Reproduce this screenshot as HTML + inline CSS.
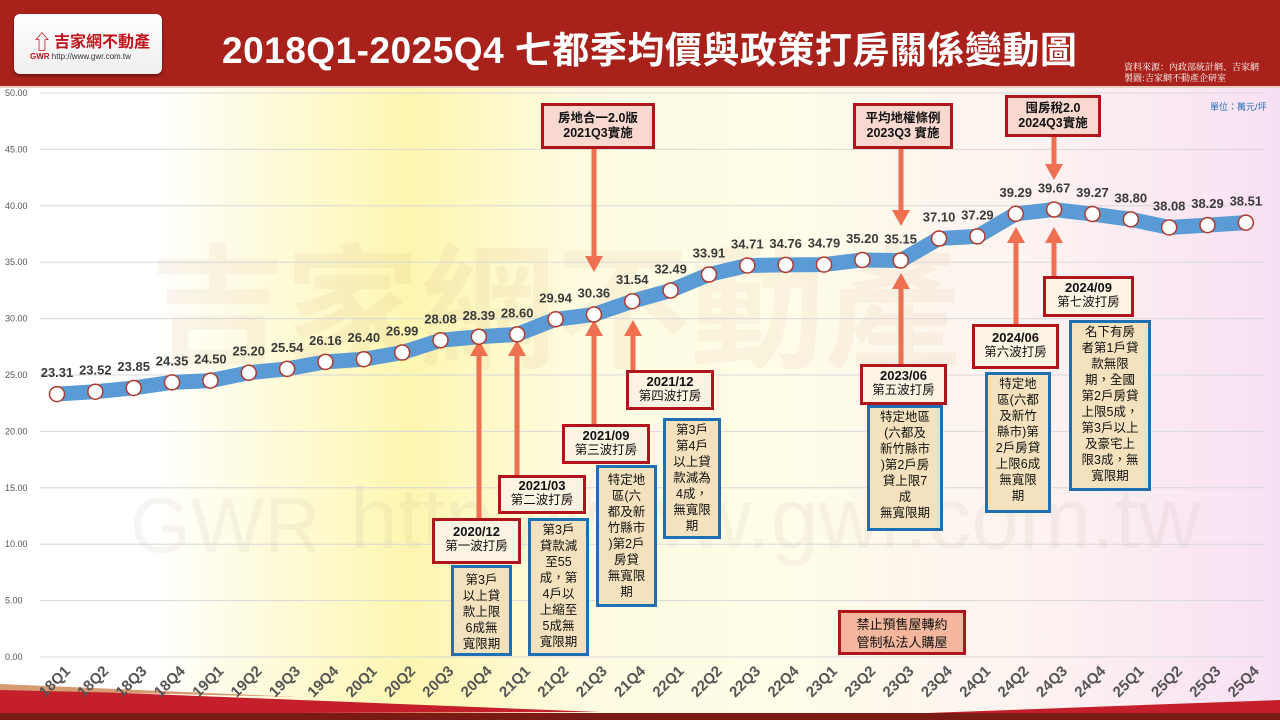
<!DOCTYPE html>
<html><head><meta charset="utf-8">
<style>
body{margin:0;width:1280px;height:720px;overflow:hidden;font-family:"Liberation Sans","Noto Sans CJK TC",sans-serif;position:relative;background:#fff}
.hdr{position:absolute;left:0;top:0;width:1280px;height:86px;background:#a8221b;border-bottom:2px solid #e8d0c0}
.logo{position:absolute;left:14px;top:14px;width:148px;height:60px;background:linear-gradient(#fff,#eee);border-radius:6px;box-shadow:0 2px 3px rgba(0,0,0,.4)}
.title{position:absolute;left:222px;top:20px;color:#fff;font-size:37px;font-weight:bold;letter-spacing:0.5px;white-space:nowrap}
.src{position:absolute;left:1124px;top:61px;color:#fff;font-size:9px;line-height:11px;font-family:"Noto Serif CJK SC",serif}
.bx{position:absolute;box-sizing:border-box;text-align:center;font-size:12.5px;line-height:15px;color:#111;font-family:"Liberation Sans","Noto Sans CJK TC",sans-serif}
.r{border:3px solid #b0151b;background:#fdf3e3}
.rt{border:3px solid #b0151b;background:#f8d8cf;font-weight:bold}
.b{border:3px solid #1f6fb5;background:#f3e2bd;padding-top:1px;font-size:12.5px;line-height:16px}
.r b{display:block;font-size:13px;margin-top:3px}
</style></head><body>
<div style="position:absolute;left:0;top:88px;width:1280px;height:632px;background:linear-gradient(90deg,#fff 0%,#fff 12%,#fdf6b0 32%,#fefbe0 45%,#fffde8 60%,#fdf3f0 80%,#f8e0f4 100%)"></div>
<div style="position:absolute;left:150px;top:200px;font-size:135px;color:rgba(200,140,100,.09);font-weight:bold;white-space:nowrap">吉家網不動產</div>
<div style="position:absolute;left:130px;top:480px;font-size:78px;color:rgba(180,170,160,.12);white-space:nowrap">GWR</div>
<div style="position:absolute;left:350px;top:470px;font-size:86px;color:rgba(180,170,160,.12);white-space:nowrap">http://www.gwr.com.tw</div>
<div class="hdr"></div>
<div class="logo"><div style="position:absolute;left:18px;top:12px;color:#c0141c;font-size:20px">⇧</div><div style="position:absolute;left:40px;top:14px;color:#c0141c;font-size:16px;font-weight:bold">吉家網不動產</div><div style="position:absolute;left:16px;top:38px;font-size:8px;color:#333"><span style="color:#c0141c;font-weight:bold">GWR</span> http://www.gwr.com.tw</div></div>
<div class="title">2018Q1-2025Q4 七都季均價與政策打房關係變動圖</div>
<div class="src">資料來源：內政部統計網、吉家網<br>製圖:吉家網不動產企研室</div>
<div style="position:absolute;left:1210px;top:100px;font-size:9px;color:#1f6fb5">單位：萬元/坪</div>
<svg id="s" width="1280" height="720" style="position:absolute;left:0;top:0" xmlns="http://www.w3.org/2000/svg"></svg>
<div class="bx rt" style="left:541px;top:103px;width:114px;height:46px;padding-top:5px">房地合一2.0版<br>2021Q3實施</div>
<div class="bx rt" style="left:853px;top:103px;width:100px;height:46px;padding-top:5px">平均地權條例<br>2023Q3 實施</div>
<div class="bx rt" style="left:1005px;top:95px;width:96px;height:42px;padding-top:3px">囤房稅2.0<br>2024Q3實施</div>
<div class="bx r" style="left:432px;top:518px;width:89px;height:46px"><b>2020/12</b>第一波打房</div>
<div class="bx r" style="left:498px;top:475px;width:88px;height:39px"><b style="margin-top:0">2021/03</b>第二波打房</div>
<div class="bx r" style="left:562px;top:424px;width:88px;height:40px"><b style="margin-top:1px">2021/09</b>第三波打房</div>
<div class="bx r" style="left:626px;top:370px;width:88px;height:40px"><b style="margin-top:1px">2021/12</b>第四波打房</div>
<div class="bx r" style="left:860px;top:364px;width:87px;height:41px"><b style="margin-top:1px">2023/06</b>第五波打房</div>
<div class="bx r" style="left:972px;top:324px;width:87px;height:45px"><b>2024/06</b>第六波打房</div>
<div class="bx r" style="left:1043px;top:276px;width:91px;height:41px"><b style="margin-top:1px">2024/09</b>第七波打房</div>
<div class="bx b" style="left:451px;top:565px;width:61px;height:91px;padding-top:4px">第3戶<br>以上貸<br>款上限<br>6成無<br>寬限期</div>
<div class="bx b" style="left:528px;top:518px;width:61px;height:138px">第3戶<br>貸款減<br>至55<br>成，第<br>4戶以<br>上縮至<br>5成無<br>寬限期</div>
<div class="bx b" style="left:596px;top:465px;width:61px;height:142px;padding-top:4px">特定地<br>區(六<br>都及新<br>竹縣市<br>)第2戶<br>房貸<br>無寬限<br>期</div>
<div class="bx b" style="left:663px;top:418px;width:58px;height:121px">第3戶<br>第4戶<br>以上貸<br>款減為<br>4成，<br>無寬限<br>期</div>
<div class="bx b" style="left:867px;top:405px;width:76px;height:126px">特定地區<br>(六都及<br>新竹縣市<br>)第2戶房<br>貸上限7<br>成<br>無寬限期</div>
<div class="bx b" style="left:985px;top:372px;width:66px;height:141px">特定地<br>區(六都<br>及新竹<br>縣市)第<br>2戶房貸<br>上限6成<br>無寬限<br>期</div>
<div class="bx b" style="left:1069px;top:320px;width:82px;height:171px">名下有房<br>者第1戶貸<br>款無限<br>期，全國<br>第2戶房貸<br>上限5成，<br>第3戶以上<br>及豪宅上<br>限3成，無<br>寬限期</div>
<div class="bx" style="left:838px;top:610px;width:128px;height:45px;border:3px solid #b0151b;background:#f4b69c;padding-top:3px;font-size:13px;line-height:18px">禁止預售屋轉約<br>管制私法人購屋</div>
<script>
const s=document.getElementById('s');let h='';
const v=[23.31,23.52,23.85,24.35,24.50,25.20,25.54,26.16,26.40,26.99,28.08,28.39,28.60,29.94,30.36,31.54,32.49,33.91,34.71,34.76,34.79,35.20,35.15,37.10,37.29,39.29,39.67,39.27,38.80,38.08,38.29,38.51];
const X=i=>57+38.35*i,Y=x=>657-x*11.28;
h+='<polygon points="0,688 600,712 0,714" fill="#c41f2a"/><polygon points="0,684 300,697 0,690" fill="#d89a70"/>';
h+='<polygon points="900,714 1280,700 1280,714" fill="#c41f2a"/><rect x="0" y="713" width="1280" height="7" fill="#7a1a14"/>';
for(let k=0;k<=10;k++){const y=Y(k*5);h+=`<line x1="40" x2="1265" y1="${y}" y2="${y}" stroke="#d8d8d8"/><text x="5" y="${y+3}" font-size="9" fill="#555">${(k*5).toFixed(2)}</text>`;}
const ar=(x,y1,y2)=>{const d=y2<y1?1:-1;h+=`<line x1="${x}" y1="${y1}" x2="${x}" y2="${y2+d*14}" stroke="#ee7050" stroke-width="5"/><polygon points="${x-9},${y2+d*16} ${x+9},${y2+d*16} ${x},${y2}" fill="#ee7050"/>`;};
ar(479,518,340);ar(517,475,340);ar(594,424,320);ar(633,370,320);ar(594,149,272);ar(901,149,226);ar(901,364,273);ar(1016,324,227);ar(1054,137,180);ar(1054,276,227);
let p=v.map((a,i)=>`${X(i)},${Y(a)}`).join(' ');
h+=`<polyline points="${p}" fill="none" stroke="#5b9bd5" stroke-width="15" stroke-linejoin="round" stroke-linecap="round"/>`;
v.forEach((a,i)=>{h+=`<circle cx="${X(i)}" cy="${Y(a)}" r="7.5" fill="#fff" stroke="#b03a2e" stroke-width="1.5"/><text x="${X(i)}" y="${Y(a)-17}" text-anchor="middle" font-size="13" font-weight="bold" fill="#3a3a3a">${a.toFixed(2)}</text>`;
const lb=String(18+Math.floor(i/4))+'Q'+(i%4+1);h+=`<text transform="translate(${X(i)+14},${672}) rotate(-45)" text-anchor="end" font-size="15" font-weight="bold" fill="#555">${lb}</text>`;});
s.innerHTML=h;
</script>
</body></html>
